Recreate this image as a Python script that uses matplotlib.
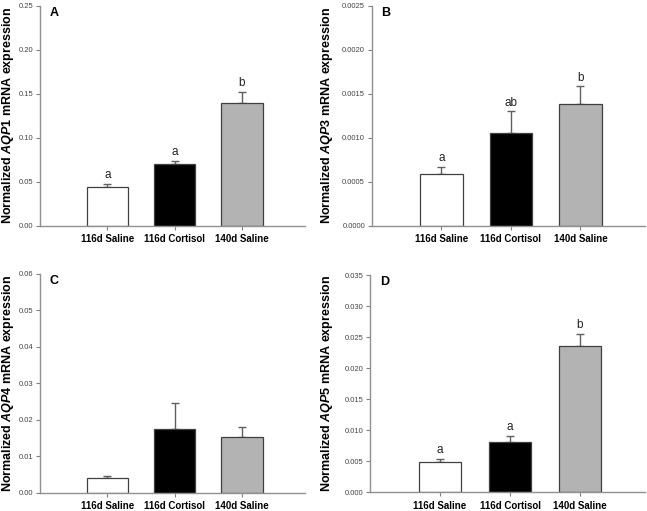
import numpy as np
import matplotlib
matplotlib.use('Agg')
import matplotlib.pyplot as plt
from matplotlib.ticker import FormatStrFormatter

plt.rcParams['font.family'] = 'Liberation Sans'
plt.rcParams['mathtext.fontset'] = 'custom'
plt.rcParams['mathtext.it'] = 'Liberation Sans:italic:bold'
plt.rcParams['mathtext.rm'] = 'Liberation Sans:bold'

groups = ['116d Saline', '116d Cortisol', '140d Saline']
bar_colors = ['white', 'black', '#b3b3b3']

aqp1 = [0.0445, 0.0700, 0.1395]
aqp1_err = [0.0035, 0.0040, 0.0125]
aqp1_sig = ['a', 'a', 'b']

aqp3 = [0.00059, 0.00106, 0.001385]
aqp3_err = [0.000078, 0.00024, 0.0002]
aqp3_sig = ['a', 'ab', 'b']

aqp4 = [0.0039, 0.0176, 0.0152]
aqp4_err = [0.0008, 0.0070, 0.0028]
aqp4_sig = ['', '', '']

aqp5 = [0.0049, 0.0081, 0.0235]
aqp5_err = [0.0005, 0.0010, 0.0020]
aqp5_sig = ['a', 'a', 'b']

# letter, gene, values, errors, labels, ymax, step, format, axes rect, ylabel x
panels = [
    ('A', 'AQP1', aqp1, aqp1_err, aqp1_sig, 0.25, 0.05, '%.2f', [0.0618, 0.5583, 0.409, 0.430], -0.090),
    ('B', 'AQP3', aqp3, aqp3_err, aqp3_sig, 0.0025, 0.0005, '%.4f', [0.575, 0.5583, 0.422, 0.430], -0.134),
    ('C', 'AQP4', aqp4, aqp4_err, aqp4_sig, 0.06, 0.01, '%.2f', [0.0618, 0.0358, 0.409, 0.428], -0.090),
    ('D', 'AQP5', aqp5, aqp5_err, aqp5_sig, 0.035, 0.005, '%.3f', [0.572, 0.0366, 0.425, 0.425], -0.126),
]

fig = plt.figure(figsize=(6.47, 5.11), dpi=100)
x = np.arange(len(groups))

for letter, gene, vals, errs, sig, ymax, step, fmt, pos, labx in panels:
    ax = fig.add_axes(pos)
    ax.bar(x, vals, width=0.61, color=bar_colors, edgecolor='#404040', linewidth=0.9, zorder=2)
    ax.errorbar(x, vals, yerr=[np.zeros(3), errs], fmt='none', ecolor='#606060',
                elinewidth=1.0, capsize=3, capthick=1.0, zorder=1)
    for xi, v, e, s in zip(x, vals, errs, sig):
        if s:
            ax.text(xi, v + e + ymax * 0.012, s, ha='center', va='bottom', fontsize=8.5, color='#222222')
    ax.set_xlim(-1.0, 2.93)
    ax.set_ylim(0, ymax)
    ax.set_yticks(np.arange(0, ymax + step / 2, step))
    ax.yaxis.set_major_formatter(FormatStrFormatter(fmt))
    ax.set_xticks(x)
    ax.set_xticklabels(groups, fontsize=7, fontweight='bold')
    ax.tick_params(axis='y', labelsize=5.5, labelcolor='#444444', color='#808080', length=3, width=0.8, pad=2)
    ax.tick_params(axis='x', color='#808080', length=3, width=0.8, pad=3)
    for side in ['top', 'right']:
        ax.spines[side].set_visible(False)
    for side in ['left', 'bottom']:
        ax.spines[side].set_color('#909090')
        ax.spines[side].set_linewidth(1.0)
    ax.set_ylabel('Normalized $' + gene + '$ mRNA expression', fontsize=9,
                  fontweight='bold')
    ax.yaxis.set_label_coords(labx, 0.5)
    ax.text(0.035, 0.995, letter, transform=ax.transAxes, fontsize=9,
            fontweight='bold', ha='left', va='top')

fig.savefig('out.png', dpi=100)
